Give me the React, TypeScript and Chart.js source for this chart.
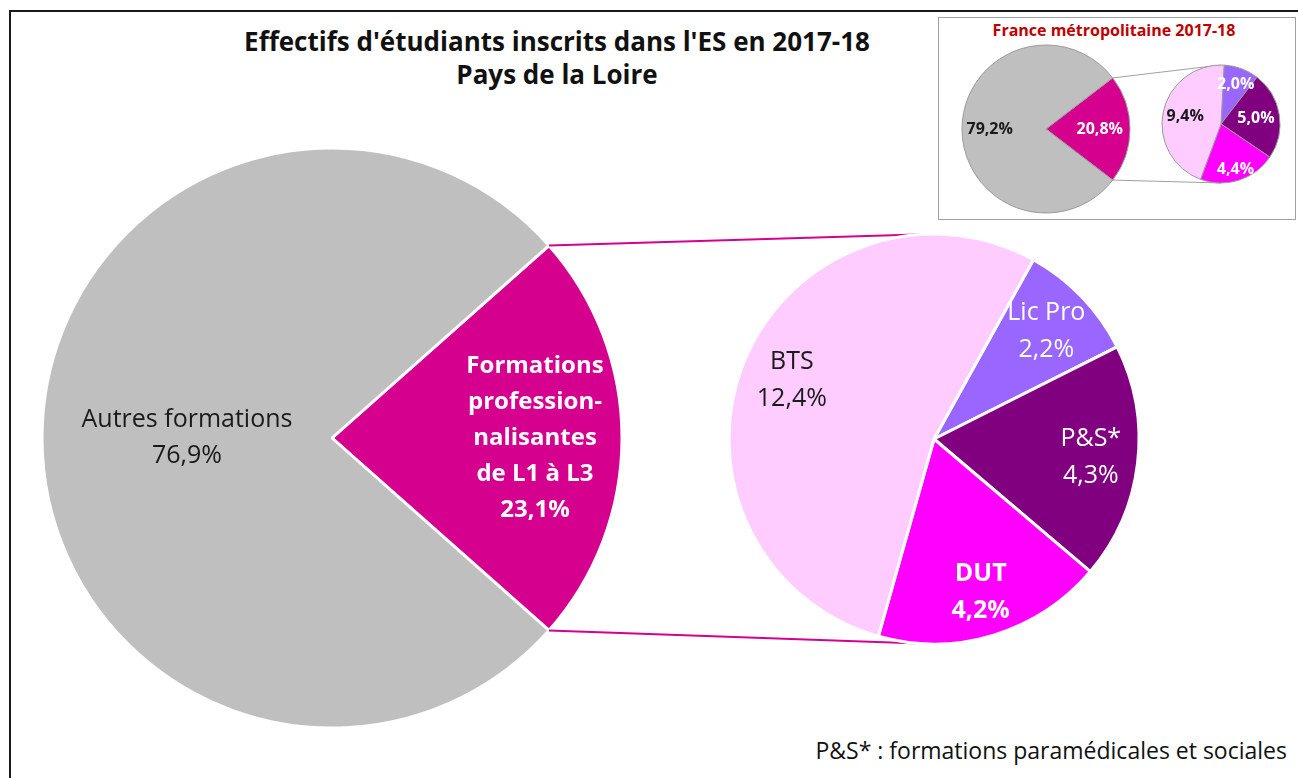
import React, { useEffect, useRef } from "react";
import { Chart, registerables } from "chart.js";

Chart.register(...registerables);

const FONT = "'Open Sans', 'DejaVu Sans', sans-serif";
const W = 1298;
const H = 778;

// ---- Data (Pays de la Loire) ----
const mainCategories = ["Formations professionnalisantes de L1 à L3", "Autres formations"];
const mainLabelLines = [["Formations", "profession-", "nalisantes", "de L1 à L3"], ["Autres formations"]];
const mainValues = [23.1, 76.9];
const mainColors = ["#D6008F", "#BFBFBF"];

const subCategories = ["Lic Pro", "P&S*", "DUT", "BTS"];
const subValues = [2.2, 4.3, 4.2, 12.4];
const subColors = ["#9966FF", "#800080", "#FF00FF", "#FFCCFF"];

// ---- Data (France métropolitaine) ----
const franceMainValues = [20.8, 79.2];
const franceSubValues = [2.0, 5.0, 4.4, 9.4];

const fmt = (v: number) => v.toFixed(1).replace(".", ",") + "%";

type LabelStyle = {
  lines: (i: number) => string[];
  colors: string[];
  bold: boolean[];
  size: number[];
  lineH: number;
  frac: number[];
};

function labelPlugin(id: string, style: LabelStyle) {
  return {
    id,
    afterDatasetsDraw(chart: any) {
      const ctx = chart.ctx;
      const meta = chart.getDatasetMeta(0);
      meta.data.forEach((arc: any, i: number) => {
        const p = arc.getProps(["x", "y", "startAngle", "endAngle", "outerRadius"], true);
        const mid = (p.startAngle + p.endAngle) / 2;
        const r = p.outerRadius * style.frac[i];
        const cx = p.x + Math.cos(mid) * r;
        const cy = p.y + Math.sin(mid) * r;
        const lines = style.lines(i);
        ctx.save();
        ctx.font = `${style.bold[i] ? "bold " : ""}${style.size[i]}px ${FONT}`;
        ctx.fillStyle = style.colors[i];
        ctx.textAlign = "center";
        ctx.textBaseline = "middle";
        const n = lines.length;
        lines.forEach((t, k) => ctx.fillText(t, cx, cy + (k - (n - 1) / 2) * style.lineH));
        ctx.restore();
      });
    },
  };
}

function connectorPlugin(id: string, getMain: () => any, color: string, width: number) {
  return {
    id,
    beforeDatasetsDraw(chart: any) {
      const main = getMain();
      if (!main) return;
      const wedge: any = main.getDatasetMeta(0).data[0];
      const p = wedge.getProps(["x", "y", "startAngle", "endAngle", "outerRadius"], true);
      const sub: any = chart.getDatasetMeta(0).data[0];
      const s = sub.getProps(["x", "y", "outerRadius"], true);
      const ctx = chart.ctx;
      ctx.save();
      ctx.strokeStyle = color;
      ctx.lineWidth = width;
      ctx.beginPath();
      ctx.moveTo(p.x + Math.cos(p.startAngle) * p.outerRadius, p.y + Math.sin(p.startAngle) * p.outerRadius);
      ctx.lineTo(s.x, s.y - s.outerRadius);
      ctx.moveTo(p.x + Math.cos(p.endAngle) * p.outerRadius, p.y + Math.sin(p.endAngle) * p.outerRadius);
      ctx.lineTo(s.x, s.y + s.outerRadius);
      ctx.stroke();
      ctx.restore();
    },
  };
}

function pieConfig(
  labels: string[],
  values: number[],
  colors: string[],
  rotation: number,
  radius: number,
  cx: number,
  cy: number,
  borderColor: string,
  borderWidth: number,
  plugins: any[]
): any {
  const m = radius + 6;
  return {
    type: "pie",
    data: {
      labels,
      datasets: [{ data: values, backgroundColor: colors, borderColor, borderWidth }],
    },
    options: {
      responsive: false,
      animation: false,
      events: [],
      rotation,
      radius,
      layout: { padding: { left: cx - m, right: W - (cx + m), top: cy - m, bottom: H - (cy + m) } },
      plugins: { legend: { display: false }, tooltip: { enabled: false }, title: { display: false } },
    },
    plugins,
  };
}

const halfWedge = (vals: number[]) => 90 - (vals[0] / vals.reduce((a, b) => a + b, 0)) * 180;

export default function App() {
  const c1 = useRef<HTMLCanvasElement>(null);
  const c2 = useRef<HTMLCanvasElement>(null);
  const c3 = useRef<HTMLCanvasElement>(null);
  const c4 = useRef<HTMLCanvasElement>(null);

  useEffect(() => {
    const main = new Chart(
      c1.current!,
      pieConfig(mainCategories, mainValues, mainColors, halfWedge(mainValues), 290, 332, 438, "#FFFFFF", 3, [
        labelPlugin("mainLabels", {
          lines: (i) => [...mainLabelLines[i], fmt(mainValues[i])],
          colors: ["#FFFFFF", "#1A1A1A"],
          bold: [true, false],
          size: [24, 25],
          lineH: 36,
          frac: [0.7, 0.5],
        }),
      ])
    );
    const sub = new Chart(
      c2.current!,
      pieConfig(subCategories, subValues, subColors, 29, 205, 934, 439, "#FFFFFF", 3, [
        connectorPlugin("mainConn", () => main, "#D6008F", 2),
        labelPlugin("subLabels", {
          lines: (i) => [subCategories[i], fmt(subValues[i])],
          colors: ["#FFFFFF", "#FFFFFF", "#FFFFFF", "#1A1A1A"],
          bold: [false, false, true, false],
          size: [25, 25, 25, 25],
          lineH: 37,
          frac: [0.76, 0.77, 0.78, 0.75],
        }),
      ])
    );
    const frMain = new Chart(
      c3.current!,
      pieConfig(mainCategories, franceMainValues, mainColors, halfWedge(franceMainValues), 84, 1046, 129, "#9A9A9A", 1, [
        labelPlugin("frMainLabels", {
          lines: (i) => [fmt(franceMainValues[i])],
          colors: ["#FFFFFF", "#1A1A1A"],
          bold: [true, true],
          size: [16, 16],
          lineH: 18,
          frac: [0.64, 0.67],
        }),
      ])
    );
    const frSub = new Chart(
      c4.current!,
      pieConfig(subCategories, franceSubValues, subColors, 3, 59, 1221, 124, "#9A9A9A", 1, [
        connectorPlugin("frConn", () => frMain, "#A0A0A0", 1),
        labelPlugin("frSubLabels", {
          lines: (i) => [fmt(franceSubValues[i])],
          colors: ["#FFFFFF", "#FFFFFF", "#FFFFFF", "#1A1A1A"],
          bold: [true, true, true, true],
          size: [16, 16, 16, 16],
          lineH: 18,
          frac: [0.72, 0.6, 0.8, 0.62],
        }),
      ])
    );
    return () => {
      frSub.destroy();
      frMain.destroy();
      sub.destroy();
      main.destroy();
    };
  }, []);

  const canvasStyle: React.CSSProperties = { position: "absolute", left: 0, top: 0, width: W, height: H };

  return (
    <div style={{ position: "fixed", left: 0, top: 0, width: W, height: H, background: "#FFFFFF", overflow: "hidden", fontFamily: FONT }}>
      <div style={{ position: "absolute", left: 9, top: 10, width: W, height: H, borderTop: "2px solid #1A1A1A", borderLeft: "2px solid #1A1A1A" }} />
      <div
        style={{
          position: "absolute",
          left: 207,
          top: 25,
          width: 700,
          textAlign: "center",
          fontWeight: 700,
          fontSize: 26,
          lineHeight: "33px",
          color: "#111",
        }}
      >
        <div>Effectifs d'étudiants inscrits dans l'ES en 2017-18</div>
        <div>Pays de la Loire</div>
      </div>
      <div style={{ position: "absolute", left: 938, top: 17, width: 358, height: 203, border: "1px solid #A0A0A0", boxSizing: "border-box", background: "#FFF" }} />
      <div style={{ position: "absolute", left: 964, top: 20, width: 300, textAlign: "center", fontWeight: 700, fontSize: 16, lineHeight: "20px", color: "#C00000" }}>
        France métropolitaine 2017-18
      </div>
      <div style={{ position: "absolute", right: 11, top: 735, fontSize: 23, lineHeight: "30px", color: "#111", whiteSpace: "nowrap" }}>
        P&amp;S* : formations paramédicales et sociales
      </div>
      <canvas ref={c1} width={W} height={H} style={canvasStyle} />
      <canvas ref={c2} width={W} height={H} style={canvasStyle} />
      <canvas ref={c3} width={W} height={H} style={canvasStyle} />
      <canvas ref={c4} width={W} height={H} style={canvasStyle} />
    </div>
  );
}
